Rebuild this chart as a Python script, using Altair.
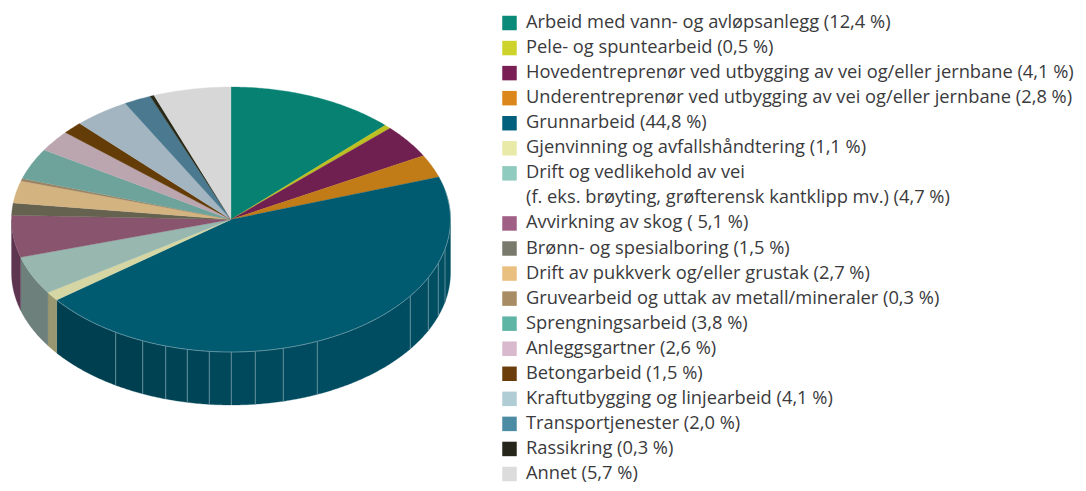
import math
import altair as alt

categories = ["Arbeid med vann- og avløpsanlegg", "Pele- og spuntearbeid", "Hovedentreprenør ved utbygging av vei og/eller jernbane",
    "Underentreprenør ved utbygging av vei og/eller jernbane", "Grunnarbeid", "Gjenvinning og avfallshåndtering",
    "Drift og vedlikehold av vei", "Avvirkning av skog", "Brønn- og spesialboring", "Drift av pukkverk og/eller grustak",
    "Gruvearbeid og uttak av metall/mineraler", "Sprengningsarbeid", "Anleggsgartner", "Betongarbeid",
    "Kraftutbygging og linjearbeid", "Transportjenester", "Rassikring", "Annet"]
values = [12.4, 0.5, 4.1, 2.8, 44.8, 1.1, 4.7, 5.1, 1.5, 2.7, 0.3, 3.8, 2.6, 1.5, 4.1, 2.0, 0.3, 5.7]
legend_lines = [["Arbeid med vann- og avløpsanlegg (12,4 %)"], ["Pele- og spuntearbeid (0,5 %)"],
    ["Hovedentreprenør ved utbygging av vei og/eller jernbane (4,1 %)"],
    ["Underentreprenør ved utbygging av vei og/eller jernbane (2,8 %)"], ["Grunnarbeid  (44,8 %)"],
    ["Gjenvinning og avfallshåndtering (1,1 %)"],
    ["Drift og vedlikehold av vei", "(f. eks. brøyting, grøfterensk kantklipp mv.) (4,7 %)"],
    ["Avvirkning av skog ( 5,1 %)"], ["Brønn- og spesialboring (1,5 %)"], ["Drift av pukkverk og/eller grustak (2,7 %)"],
    ["Gruvearbeid og uttak av metall/mineraler (0,3 %)"], ["Sprengningsarbeid (3,8 %)"], ["Anleggsgartner (2,6 %)"],
    ["Betongarbeid (1,5 %)"], ["Kraftutbygging og linjearbeid (4,1 %)"], ["Transportjenester (2,0 %)"],
    ["Rassikring (0,3 %)"], ["Annet (5,7 %)"]]
top_colors = ["#078272", "#bcc020", "#6f2050", "#c27c17", "#005a70", "#d6d6a4", "#97b7af", "#88546e", "#666250",
    "#d3b380", "#9c8463", "#6da39b", "#bba6b0", "#643c08", "#a3b5c1", "#4b7a90", "#2a2a18", "#d7d7d7"]
legend_colors = ["#0a8a78", "#cdd32a", "#7a1f55", "#dc871c", "#02607d", "#e9eaa8", "#90cbc0", "#a05f85", "#7a7a6c",
    "#e9c07f", "#a88c63", "#5eb5a5", "#d9b9cd", "#6a3d0a", "#b0cdd5", "#4b8ba3", "#26261a", "#dcdcdc"]
wall_colors = {5: "#98976f", 6: "#6d807c", 7: "#5d3550"}
seam_xs = [115.7, 142.7, 165.7, 187.3, 209.3, 231.3, 255.3, 283.3, 317.3, 410.3, 428.3, 438.3, 445.0]
grunn_wall_colors = ["#003f4f", "#003f4f", "#004152", "#004354", "#004557", "#00485a", "#00495c", "#004a5d",
    "#004b5f", "#004c60", "#004d61", "#004e62", "#004f63", "#004f63"]

CX, CY, RX, RY, DEPTH = 223.0, 211.5, 219.5, 132.5, 53.0


def rim(theta, down=0.0):
    t = math.radians(theta)
    return [CX + RX * math.sin(t), CY - RY * math.cos(t) + down]


def arc(a, b, down=0.0):
    n = max(2, int(abs(b - a) * 2))
    return [rim(a + (b - a) * i / n, down) for i in range(n + 1)]


def feature(kind, coords, color):
    return {"type": "Feature", "properties": {"color": color},
            "geometry": {"type": kind, "coordinates": coords}}


def wall(a, b, color):
    ring = arc(a, b) + arc(b, a, DEPTH)
    return feature("Polygon", [ring + [ring[0]]], color)


edges = [0.0]
for v in values:
    edges.append(edges[-1] + v)
edges = [e / edges[-1] * 360 for e in edges]

tops = [feature("Polygon", [[[CX, CY]] + arc(edges[i], edges[i + 1]) + [[CX, CY]]], top_colors[i])
        for i in range(len(values))]

seam_thetas = [180 - math.degrees(math.asin((x - 8 - CX) / RX)) for x in seam_xs]
seam_thetas = sorted(seam_thetas)
bounds = [90.0] + seam_thetas + [edges[5]]
walls = [wall(bounds[i], bounds[i + 1], grunn_wall_colors[::-1][i]) for i in range(len(bounds) - 1)]
for i, c in wall_colors.items():
    walls.append(wall(edges[i], min(edges[i + 1], 270.0), c))

seams = [feature("LineString", [rim(t), rim(t, DEPTH)], "#5f8f9c") for t in seam_thetas]
rim_line = [feature("LineString", arc(78.0, edges[5]), "#7fa7b2")]

col = alt.Color("properties.color:N", scale=None, legend=None)


def fills(rows, sw):
    return alt.Chart(alt.Data(values=rows)).mark_geoshape(strokeWidth=sw).encode(
        color=col, stroke=alt.Stroke("properties.color:N", scale=None, legend=None)).project(
        type="identity", scale=1, translate=[0, 0])


def lines(rows, sw):
    return alt.Chart(alt.Data(values=rows)).mark_geoshape(filled=False, strokeWidth=sw).encode(
        stroke=alt.Stroke("properties.color:N", scale=None, legend=None)).project(
        type="identity", scale=1, translate=[0, 0])


pie = alt.layer(fills(walls, 0.3), lines(seams, 1.0), fills(tops, 0.3), lines(rim_line, 0.7)).properties(width=480, height=475)

swatches, texts = [], []
row = 0
for i, ls in enumerate(legend_lines):
    swatches.append({"row": row, "color": legend_colors[i], "name": categories[i], "value": values[i]})
    for line in ls:
        texts.append({"row": row, "text": line})
        row += 1

y = alt.Y("row:Q", scale=alt.Scale(domain=[0, row - 1], range=[15, 466]), axis=None)
sw = alt.Chart(alt.Data(values=swatches)).mark_square(size=210, opacity=1).encode(
    x=alt.value(21.5), y=y, color=alt.Color("color:N", scale=None, legend=None))
tx = alt.Chart(alt.Data(values=texts)).mark_text(align="left", baseline="middle", font="Open Sans", fontSize=18.3, color="#3a3a3c").encode(
    x=alt.value(38), y=y, text="text:N")
legend = alt.layer(sw, tx).properties(width=590, height=475)

chart = alt.hconcat(pie, legend, spacing=0).properties(padding=0).configure_view(stroke=None)
chart.save("out.html", embed_options={"renderer": "svg", "actions": False})
